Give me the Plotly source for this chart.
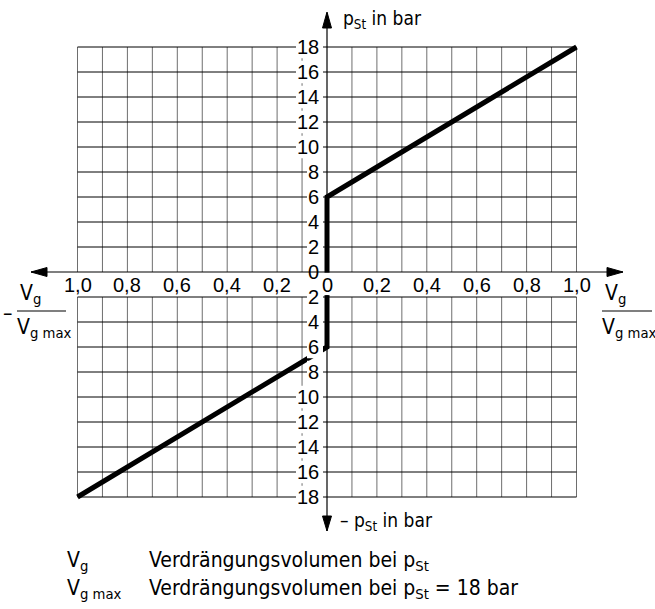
import plotly.graph_objects as go

# Characteristic: control pressure p_St over displacement ratio Vg/Vg max
ratio_pos = [0.0, 0.0, 1.0]
p_pos = [0.0, 6.0, 18.0]
ratio_neg = [0.0, 0.0, -1.0]
p_neg = [0.0, -6.0, -18.0]

# Tick positions and labels
x_ticks = [-1.0, -0.8, -0.6, -0.4, -0.2, 0.0, 0.2, 0.4, 0.6, 0.8, 1.0]
x_tick_text = ["1,0", "0,8", "0,6", "0,4", "0,2", "0", "0,2", "0,4", "0,6", "0,8", "1,0"]
y_ticks_up = [18, 16, 14, 12, 10, 8, 6, 4, 2, 0]
y_ticks_down = [-2, -4, -6, -8, -10, -12, -14, -16, -18]

W, H = 655, 609
X0_PX, X_SCALE = 327.0, 249.5      # pixel of ratio 0, pixels per unit ratio
Y0_PX, Y_SCALE = 272.0, 12.5       # pixel of p = 0, pixels per bar

TICK_FONT = dict(family="Liberation Sans, Arial, sans-serif", size=20, color="black")
TEXT_FONT = dict(family="Liberation Sans Narrow, DejaVu Sans Condensed, sans-serif", size=21, color="black")
AXIS_FONT = dict(family="Liberation Sans Narrow, DejaVu Sans Condensed, sans-serif", size=19, color="black")


def paper(px, py):
    return px / W, 1 - py / H


fig = go.Figure()

shapes = []
# vertical grid lines (grey), upper and lower field
for i in range(-10, 11):
    if i == 0:
        continue
    xv = i / 10
    for y_a, y_b in ((0, 18), (-2, -18)):
        shapes.append(dict(type="line", xref="x", yref="y", x0=xv, x1=xv, y0=y_a, y1=y_b,
                           line=dict(color="#6e6e6e", width=1), layer="below"))
# horizontal grid lines (black)
for yv in list(range(2, 19, 2)) + list(range(-2, -19, -2)):
    shapes.append(dict(type="line", xref="x", yref="y", x0=-1, x1=1, y0=yv, y1=yv,
                       line=dict(color="black", width=1), layer="below"))

# curves
fig.add_trace(go.Scatter(x=ratio_pos, y=p_pos, mode="lines",
                         line=dict(color="black", width=5), hoverinfo="skip"))
fig.add_trace(go.Scatter(x=ratio_neg, y=p_neg, mode="lines",
                         line=dict(color="black", width=5), hoverinfo="skip"))

# white backgrounds behind the y tick labels
for yv in y_ticks_up + y_ticks_down:
    w_px = 25 if abs(yv) >= 10 else 14
    shapes.append(dict(type="rect", xref="x", yref="y",
                       x0=-(w_px + 6) / X_SCALE, x1=-4 / X_SCALE,
                       y0=yv - 0.9, y1=yv + 0.9,
                       fillcolor="white", line=dict(width=0), layer="above"))

# white band between the two fields where the x label "0" sits
shapes.append(dict(type="rect", xref="x", yref="y", x0=-0.03, x1=0.03, y0=-0.05, y1=-1.85,
                   fillcolor="white", line=dict(width=0), layer="above"))


# axes with arrows (drawn in pixel space)
def line_px(x0, y0, x1, y1):
    a, b = paper(x0, y0)
    c, d = paper(x1, y1)
    return dict(type="line", xref="paper", yref="paper", x0=a, y0=b, x1=c, y1=d,
                line=dict(color="black", width=1.2), layer="above")


def tri_px(pts):
    path = ""
    for k, (px, py) in enumerate(pts):
        a, b = paper(px, py)
        path += ("M" if k == 0 else "L") + f"{a},{b} "
    return dict(type="path", xref="paper", yref="paper", path=path + "Z",
                fillcolor="black", line=dict(color="black", width=1), layer="above")


shapes.append(line_px(31, Y0_PX, 623, Y0_PX))
shapes.append(line_px(X0_PX, 13, X0_PX, Y0_PX))
shapes.append(line_px(X0_PX, Y0_PX + 23, X0_PX, 531))
shapes.append(tri_px([(31, Y0_PX), (47, Y0_PX - 4.5), (47, Y0_PX + 4.5)]))
shapes.append(tri_px([(623, Y0_PX), (607, Y0_PX - 4.5), (607, Y0_PX + 4.5)]))
shapes.append(tri_px([(X0_PX, 12), (X0_PX - 4.5, 28), (X0_PX + 4.5, 28)]))
shapes.append(tri_px([(X0_PX, 531), (X0_PX - 4.5, 516), (X0_PX + 4.5, 516)]))

# fraction bars of the x-axis titles
shapes.append(line_px(602, 311, 652, 311))
shapes.append(line_px(17, 311, 66, 311))

annotations = []
# y tick labels (magnitudes)
for yv in y_ticks_up + y_ticks_down:
    annotations.append(dict(x=0, y=yv, xref="x", yref="y", text=str(abs(yv)),
                            showarrow=False, xanchor="right", yanchor="middle", xshift=-6,
                            font=TICK_FONT))
# x tick labels
for xv, txt in zip(x_ticks, x_tick_text):
    annotations.append(dict(x=xv, y=-1.05, xref="x", yref="y", text=txt, showarrow=False,
                            xanchor="center", yanchor="middle", font=TICK_FONT))


def text_px(px, py, txt, anchor="left", font=TEXT_FONT):
    a, b = paper(px, py)
    annotations.append(dict(x=a, y=b, xref="paper", yref="paper", text=txt, showarrow=False,
                            xanchor=anchor, yanchor="middle", font=font))


text_px(341, 20, "p<sub>St</sub> in bar", font=AXIS_FONT)
text_px(338, 521, "– p<sub>St</sub> in bar", font=AXIS_FONT)
text_px(603, 294, "V<sub>g</sub>")
text_px(600, 328, "V<sub>g max</sub>")
text_px(18, 294, "V<sub>g</sub>")
text_px(15, 328, "V<sub>g max</sub>")
text_px(1, 313, "–")
text_px(65, 561, "V<sub>g</sub>")
text_px(147, 561, "Verdrängungsvolumen bei p<sub>St</sub>")
text_px(65, 589, "V<sub>g max</sub>")
text_px(147, 589, "Verdrängungsvolumen bei p<sub>St</sub> = 18 bar")

fig.update_layout(
    width=W, height=H, autosize=False,
    margin=dict(l=0, r=0, t=0, b=0),
    paper_bgcolor="white", plot_bgcolor="white",
    showlegend=False,
    xaxis=dict(range=[-X0_PX / X_SCALE, (W - X0_PX) / X_SCALE], visible=False, fixedrange=True),
    yaxis=dict(range=[-(H - Y0_PX) / Y_SCALE, Y0_PX / Y_SCALE], visible=False, fixedrange=True),
    shapes=shapes,
    annotations=annotations,
)

fig.write_html("out.html")
